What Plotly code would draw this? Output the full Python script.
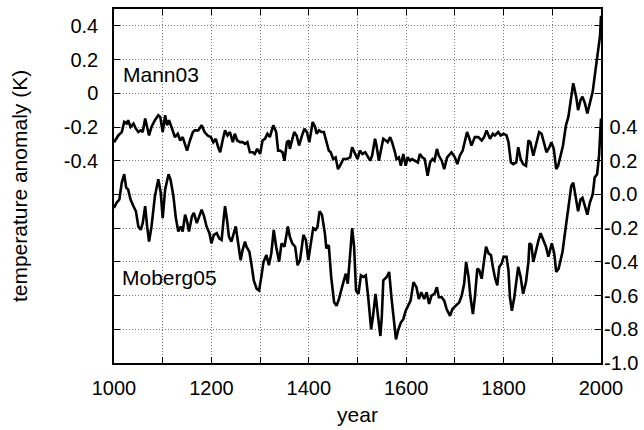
import plotly.graph_objects as go

# ---------------- data ----------------
mann_years = [1000, 1009, 1016, 1021, 1026, 1029, 1034, 1040, 1045, 1050, 1055, 1059, 1064, 1068, 1072, 1077,
              1084, 1091, 1095, 1100, 1105, 1109, 1113, 1118, 1125, 1131, 1136, 1141, 1146, 1150, 1156, 1162,
              1166, 1173, 1180, 1186, 1192, 1199, 1204, 1209, 1214, 1218, 1223, 1228, 1233, 1238, 1244, 1248,
              1253, 1259, 1264, 1269, 1274, 1279, 1285, 1289, 1294, 1300, 1305, 1310, 1315, 1320, 1327, 1333,
              1337, 1341, 1346, 1350, 1355, 1359, 1361, 1365, 1370, 1375, 1380, 1385, 1391, 1396, 1401, 1404,
              1408, 1413, 1416, 1421, 1426, 1431, 1436, 1441, 1445, 1450, 1455, 1460, 1464, 1471, 1478, 1485,
              1489, 1495, 1500, 1505, 1510, 1516, 1521, 1526, 1530, 1536, 1539, 1544, 1548, 1553, 1558, 1562,
              1567, 1571, 1577, 1580, 1585, 1589, 1594, 1599, 1603, 1608, 1612, 1618, 1624, 1628, 1633, 1638,
              1644, 1649, 1654, 1658, 1663, 1667, 1673, 1678, 1684, 1693, 1700, 1705, 1710, 1716, 1721, 1725,
              1730, 1734, 1741, 1748, 1755, 1760, 1765, 1772, 1778, 1782, 1789, 1794, 1800, 1806, 1810, 1815,
              1820, 1826, 1830, 1835, 1840, 1846, 1851, 1855, 1861, 1868, 1873, 1878, 1883, 1888, 1894, 1898,
              1903, 1908, 1912, 1917, 1922, 1928, 1933, 1938, 1943, 1949, 1953, 1958, 1962, 1967, 1972, 1977,
              1983, 1987, 1992, 1998, 2000]
mann_values = [-0.29, -0.25, -0.23, -0.17, -0.18, -0.16, -0.20, -0.18, -0.21, -0.23, -0.22, -0.23, -0.15, -0.21, -0.25, -0.20,
               -0.16, -0.13, -0.14, -0.23, -0.13, -0.19, -0.16, -0.20, -0.26, -0.24, -0.28, -0.26, -0.30, -0.34, -0.28, -0.23,
               -0.22, -0.22, -0.19, -0.23, -0.25, -0.26, -0.29, -0.27, -0.32, -0.35, -0.28, -0.22, -0.25, -0.23, -0.29, -0.24,
               -0.28, -0.29, -0.29, -0.30, -0.29, -0.35, -0.35, -0.36, -0.33, -0.36, -0.28, -0.27, -0.24, -0.26, -0.19, -0.23,
               -0.34, -0.34, -0.35, -0.40, -0.29, -0.28, -0.33, -0.29, -0.23, -0.25, -0.31, -0.26, -0.21, -0.23, -0.29, -0.24,
               -0.17, -0.20, -0.24, -0.22, -0.23, -0.23, -0.29, -0.34, -0.35, -0.39, -0.38, -0.45, -0.43, -0.39, -0.39, -0.38,
               -0.32, -0.36, -0.39, -0.34, -0.36, -0.35, -0.38, -0.40, -0.37, -0.27, -0.31, -0.40, -0.34, -0.27, -0.28, -0.29,
               -0.26, -0.29, -0.35, -0.39, -0.38, -0.43, -0.36, -0.43, -0.38, -0.40, -0.39, -0.40, -0.41, -0.36, -0.38, -0.39,
               -0.49, -0.41, -0.39, -0.40, -0.33, -0.37, -0.40, -0.45, -0.38, -0.35, -0.38, -0.42, -0.37, -0.34, -0.28, -0.23,
               -0.27, -0.31, -0.26, -0.26, -0.28, -0.26, -0.22, -0.27, -0.24, -0.25, -0.23, -0.25, -0.24, -0.25, -0.29, -0.41,
               -0.42, -0.41, -0.32, -0.39, -0.42, -0.43, -0.28, -0.29, -0.37, -0.29, -0.23, -0.24, -0.30, -0.35, -0.32, -0.29,
               -0.33, -0.45, -0.43, -0.37, -0.31, -0.19, -0.14, -0.04, 0.06, -0.02, -0.10, -0.04, -0.02, -0.06, -0.12, -0.06,
               0.01, 0.10, 0.20, 0.34, 0.46]

moberg_years = [1000, 1005, 1011, 1016, 1021, 1025, 1029, 1034, 1040, 1045, 1050, 1055, 1059, 1064, 1068, 1072,
                1077, 1084, 1091, 1096, 1100, 1105, 1112, 1116, 1122, 1127, 1132, 1137, 1141, 1146, 1150, 1154,
                1160, 1164, 1170, 1175, 1180, 1185, 1190, 1196, 1200, 1205, 1211, 1216, 1221, 1225, 1228, 1232,
                1236, 1241, 1246, 1250, 1255, 1260, 1264, 1269, 1272, 1278, 1283, 1287, 1293, 1298, 1303, 1307,
                1313, 1318, 1323, 1328, 1333, 1339, 1344, 1350, 1357, 1361, 1366, 1372, 1377, 1382, 1389, 1394,
                1399, 1404, 1409, 1414, 1418, 1422, 1427, 1433, 1436, 1441, 1446, 1452, 1457, 1462, 1466, 1471,
                1476, 1480, 1485, 1489, 1493, 1497, 1502, 1507, 1512, 1517, 1522, 1528, 1532, 1537, 1542, 1547,
                1550, 1553, 1560, 1565, 1570, 1575, 1579, 1584, 1589, 1594, 1599, 1604, 1609, 1615, 1621, 1626,
                1631, 1637, 1642, 1647, 1652, 1658, 1663, 1667, 1673, 1678, 1683, 1690, 1695, 1702, 1709, 1714,
                1719, 1723, 1728, 1732, 1737, 1741, 1746, 1750, 1755, 1760, 1764, 1769, 1774, 1778, 1782, 1787,
                1791, 1796, 1800, 1806, 1810, 1813, 1817, 1822, 1826, 1830, 1835, 1840, 1846, 1851, 1853, 1857,
                1861, 1866, 1871, 1876, 1881, 1887, 1892, 1896, 1899, 1904, 1908, 1913, 1917, 1921, 1926, 1931,
                1935, 1939, 1943, 1949, 1953, 1958, 1962, 1967, 1972, 1977, 1983, 1987, 1992, 1996, 2000]
moberg_values = [-0.08, -0.05, -0.03, 0.07, 0.12, 0.04, 0.03, -0.03, -0.07, -0.10, -0.19, -0.21, -0.17, -0.07, -0.19, -0.28,
                 -0.19, -0.01, 0.09, 0.01, -0.14, 0.03, 0.12, 0.09, -0.01, -0.14, -0.22, -0.19, -0.22, -0.12, -0.16, -0.22,
                 -0.13, -0.11, -0.17, -0.13, -0.09, -0.13, -0.19, -0.23, -0.29, -0.24, -0.23, -0.26, -0.27, -0.15, -0.07, -0.15,
                 -0.25, -0.28, -0.23, -0.19, -0.29, -0.39, -0.33, -0.28, -0.31, -0.34, -0.43, -0.51, -0.56, -0.57, -0.48, -0.40,
                 -0.36, -0.42, -0.35, -0.21, -0.31, -0.40, -0.29, -0.31, -0.19, -0.25, -0.29, -0.31, -0.42, -0.39, -0.24, -0.27,
                 -0.39, -0.29, -0.20, -0.21, -0.19, -0.10, -0.12, -0.23, -0.32, -0.30, -0.49, -0.64, -0.66, -0.62, -0.57, -0.52,
                 -0.47, -0.53, -0.35, -0.20, -0.31, -0.57, -0.59, -0.48, -0.49, -0.48, -0.61, -0.80, -0.72, -0.59, -0.72, -0.84,
                 -0.72, -0.51, -0.49, -0.46, -0.62, -0.78, -0.86, -0.80, -0.76, -0.74, -0.69, -0.66, -0.63, -0.52, -0.55, -0.62,
                 -0.58, -0.62, -0.58, -0.65, -0.60, -0.59, -0.55, -0.61, -0.61, -0.63, -0.68, -0.72, -0.68, -0.66, -0.64, -0.60,
                 -0.53, -0.40, -0.49, -0.61, -0.71, -0.61, -0.44, -0.45, -0.50, -0.39, -0.31, -0.35, -0.36, -0.43, -0.49, -0.54,
                 -0.43, -0.41, -0.37, -0.37, -0.45, -0.61, -0.69, -0.61, -0.50, -0.43, -0.49, -0.59, -0.52, -0.40, -0.29, -0.30,
                 -0.40, -0.33, -0.28, -0.23, -0.27, -0.31, -0.37, -0.33, -0.29, -0.35, -0.46, -0.44, -0.39, -0.34, -0.23, -0.13,
                 -0.05, 0.05, 0.07, -0.02, -0.10, -0.03, -0.02, -0.07, -0.12, -0.05, 0.00, 0.10, 0.12, 0.23, 0.45]

x_tick_values = [1000, 1100, 1200, 1300, 1400, 1500, 1600, 1700, 1800, 1900, 2000]
x_tick_labels = ["1000", "", "1200", "", "1400", "", "1600", "", "1800", "", "2000"]

left_tick_values = [-1.4, -1.2, -1.0, -0.8, -0.6, -0.4, -0.2, 0.0, 0.2, 0.4]
left_tick_labels = ["", "", "", "", "", "-0.4", "-0.2", "0", "0.2", "0.4"]

right_tick_values = [-1.0, -0.8, -0.6, -0.4, -0.2, 0.0, 0.2, 0.4]
right_tick_labels = ["-1.0", "-0.8", "-0.6", "-0.4", "-0.2", "\u00a00.0", "\u00a00.2", "\u00a00.4"]

series_labels = ["Mann03", "Moberg05"]

# ---------------- figure ----------------
FONT = "Liberation Sans, Arial, Helvetica, sans-serif"
GRID = "#777777"
DOTS = "1px,2px"

fig = go.Figure()
fig.add_trace(go.Scatter(x=mann_years, y=mann_values, mode="lines", name=series_labels[0],
                         line=dict(color="black", width=2.6), yaxis="y"))
fig.add_trace(go.Scatter(x=moberg_years, y=moberg_values, mode="lines", name=series_labels[1],
                         line=dict(color="black", width=2.6), yaxis="y2"))

fig.add_annotation(x=1014, y=0.11, xref="x", yref="y", text=series_labels[0], showarrow=False,
                   xanchor="left", yanchor="middle", font=dict(family=FONT, size=21, color="black"))
fig.add_annotation(x=1012, y=-1.094, xref="x", yref="y", text=series_labels[1], showarrow=False,
                   xanchor="left", yanchor="middle", font=dict(family=FONT, size=21, color="black"))

fig.update_layout(
    width=644, height=430,
    margin=dict(l=114, r=43, t=9, b=67, autoexpand=False),
    paper_bgcolor="white", plot_bgcolor="white",
    showlegend=False,
    font=dict(family=FONT, size=20, color="black"),
    xaxis=dict(
        range=[1000, 2000], tickmode="array", tickvals=x_tick_values, ticktext=x_tick_labels,
        ticks="inside", ticklen=6, tickwidth=1.2, tickcolor="black",
        showline=True, linecolor="black", linewidth=1.5, mirror="ticks",
        showgrid=True, gridcolor=GRID, griddash=DOTS, gridwidth=1,
        zeroline=False, ticklabelstandoff=6, automargin=False,
        title=dict(text="year", font=dict(size=21), standoff=10),
    ),
    yaxis=dict(
        range=[-1.6, 0.5], tickmode="array", tickvals=left_tick_values, ticktext=left_tick_labels,
        ticks="inside", ticklen=6, tickwidth=1.2, tickcolor="black",
        showline=True, linecolor="black", linewidth=1.5, mirror="ticks",
        showgrid=True, gridcolor=GRID, griddash=DOTS, gridwidth=1,
        zeroline=False, ticklabelstandoff=10, automargin=False,
        title=dict(text="temperature anomaly (K)", font=dict(size=21), standoff=30),
    ),
    yaxis2=dict(
        range=[-1.0, 1.1], overlaying="y", side="right", anchor="x",
        tickmode="array", tickvals=right_tick_values, ticktext=right_tick_labels,
        ticks="inside", ticklen=6, tickwidth=1.2, tickcolor="black",
        showline=False, showgrid=False, zeroline=False, ticklabelstandoff=2, automargin=False,
    ),
)

fig.write_html("out.html", config={"displayModeBar": False},
               post_script="document.body.style.margin='0';")
